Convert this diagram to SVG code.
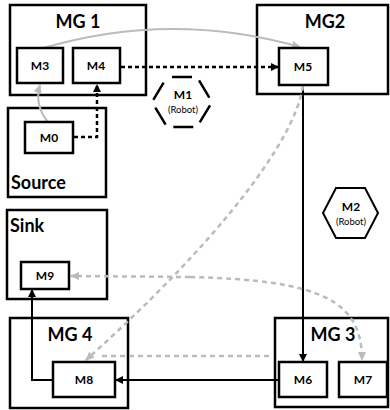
<svg xmlns="http://www.w3.org/2000/svg" width="390" height="410" viewBox="0 0 390 410">
<defs>
<style>
.grp{fill:#fff;stroke:#000;stroke-width:2.5}
.mod{fill:#fff;stroke:#000;stroke-width:2.5}
.gl{font-family:Lato,"Open Sans",sans-serif;font-weight:bold;font-size:18px;fill:#000}
.ml{font-family:Lato,"Open Sans",sans-serif;font-weight:bold;font-size:12px;fill:#000;text-anchor:middle}
.rl{font-family:Lato,"Open Sans",sans-serif;font-size:9.5px;fill:#000;text-anchor:middle}
.blk{fill:none;stroke:#000;stroke-width:2}
.bd{fill:none;stroke:#000;stroke-width:2.5;stroke-dasharray:4 3}
.gs{fill:none;stroke:#bbb;stroke-width:2}
.gd{fill:none;stroke:#bbb;stroke-width:2.5;stroke-dasharray:5 4}
</style>
<marker id="ab" markerWidth="8" markerHeight="8" refX="7" refY="4" orient="auto" markerUnits="userSpaceOnUse"><path d="M0,0 L8,4 L0,8 Z" fill="#000"/></marker>
<marker id="ag" markerWidth="9" markerHeight="8" refX="8" refY="4" orient="auto" markerUnits="userSpaceOnUse"><path d="M0,0 L9,4 L0,8 Z" fill="#bbb"/></marker>
</defs>
<rect width="390" height="410" fill="#fff"/>

<g id="MG1"><rect class="grp" x="10" y="5" width="136" height="90"/><text class="gl" x="78" y="28" text-anchor="middle">MG 1</text></g>
<g id="MG2"><rect class="grp" x="257" y="5" width="131" height="89"/><text class="gl" x="325" y="28" text-anchor="middle">MG2</text></g>
<g id="Source"><rect class="grp" x="8" y="108" width="98" height="89"/><text class="gl" x="11" y="189">Source</text></g>
<g id="Sink"><rect class="grp" x="7" y="210" width="100" height="89"/><text class="gl" x="10" y="232">Sink</text></g>
<g id="MG4"><rect class="grp" x="10" y="318" width="118" height="90"/><text class="gl" x="70" y="341" text-anchor="middle">MG 4</text></g>
<g id="MG3"><rect class="grp" x="275" y="318" width="113" height="89"/><text class="gl" x="333" y="341" text-anchor="middle">MG 3</text></g>

<g id="connectors">
<path class="gd" d="M102,356 L274,356"/>
<path class="gs" d="M40,49 Q170,10 300,47" marker-end="url(#ag)"/>
<path class="gs" d="M48,122 Q34,105 40,85" marker-end="url(#ag)"/>
<path class="bd" d="M74,137 L97,137 L97,85" marker-end="url(#ab)"/>
<path class="bd" d="M121,67 L278,67" marker-end="url(#ab)"/>
<path class="blk" d="M303,86 L303,361" marker-end="url(#ab)"/>
<path class="blk" d="M279,380 L116,380" marker-end="url(#ab)"/>
<path class="blk" d="M53,380 L32,380 L32,290" marker-end="url(#ab)"/>
<path class="gd" d="M303,86 C295,140 220,240 86,360" marker-end="url(#ag)"/>
<path class="gd" d="M190,277 C320,280 362,300 362,360" marker-end="url(#ag)"/>
<path class="gd" d="M190,277 L71,276" marker-end="url(#ag)"/>
</g>

<g id="M3"><rect class="mod" x="17" y="48" width="46" height="35"/><text class="ml" x="40" y="70">M3</text></g>
<g id="M4"><rect class="mod" x="73" y="48" width="47" height="35"/><text class="ml" x="96" y="70">M4</text></g>
<g id="M0"><rect class="mod" x="25" y="122" width="48" height="31"/><text class="ml" x="49" y="142">M0</text></g>
<g id="M5"><rect class="mod" x="279" y="48" width="49" height="37"/><text class="ml" x="303" y="71">M5</text></g>
<g id="M9"><rect class="mod" x="21" y="262" width="48" height="27"/><text class="ml" x="45" y="280">M9</text></g>
<g id="M8"><rect class="mod" x="53" y="362" width="62" height="35"/><text class="ml" x="84" y="384">M8</text></g>
<g id="M6"><rect class="mod" x="279" y="362" width="48" height="35"/><text class="ml" x="303" y="384">M6</text></g>
<g id="M7"><rect class="mod" x="339" y="362" width="48" height="35"/><text class="ml" x="363" y="384">M7</text></g>

<g id="M1"><path d="M167,77 L197,77 L212,102 L197,127 L167,127 L152,102 Z" fill="none" stroke="#000" stroke-width="2.5" stroke-dasharray="20 9" stroke-dashoffset="-5"/><text class="ml" x="183" y="99">M1</text><text class="rl" x="183" y="113">(Robot)</text></g>
<g id="M2"><path d="M336,188 L365,188 L378,213 L365,238 L336,238 L323,213 Z" fill="#fff" stroke="#000" stroke-width="2"/><text class="ml" x="351" y="211">M2</text><text class="rl" x="351" y="225">(Robot)</text></g>
</svg>
